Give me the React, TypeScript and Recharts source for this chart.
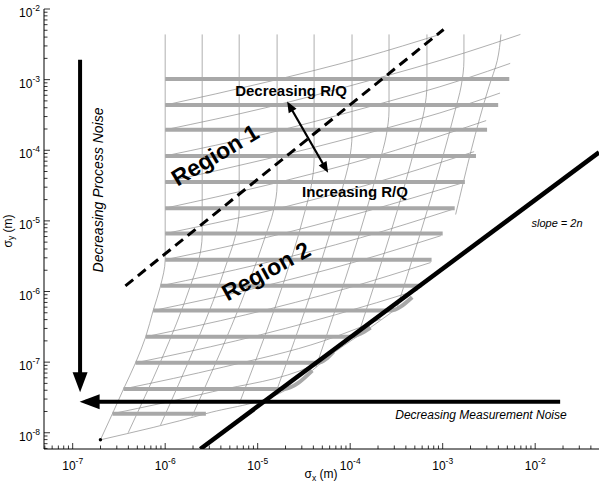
import React from "react";
import { ComposedChart, Line, Scatter, XAxis, YAxis } from "recharts";

const FONT = '"Liberation Sans", Arial, Helvetica, sans-serif';

// axis ranges in log10 units
const xRange = [-7.31, -1.31];
const yRange = [-8.23, -2];

// thick gray levels: log10 σy, and where each one runs in log10 σx
const bandY = [-2.99, -3.36, -3.71, -4.08, -4.45, -4.82, -5.18, -5.55, -5.92, -6.27, -6.64, -7.01, -7.38, -7.73];
const bandFrom = [-6.0, -6.0, -6.0, -6.0, -6.0, -6.0, -6.0, -6.0, -6.05, -6.13, -6.21, -6.32, -6.45, -6.57];
const bandTo = [-2.28, -2.4, -2.52, -2.64, -2.76, -2.87, -3.0, -3.12, -3.23, -3.57, -4.0, -4.35, -4.72, -5.56];
// lower levels turn up along the slope line
const bandHook: (number[] | null)[] = [
  null, null, null, null, null, null, null, null, null,
  [-3.33, -6.08], [-3.78, -6.51], [-4.18, -6.85], [-4.41, -7.12], null,
];

// thin grid, near-vertical family [log σx, log σy]
const gridA: number[][][] = [
  [[-6.0, -2.36], [-6.0, -5.55], [-6.05, -5.92], [-6.13, -6.27], [-6.21, -6.64], [-6.32, -7.01], [-6.45, -7.38], [-6.57, -7.73], [-6.7, -8.1]],
  [[-5.6, -2.36], [-5.6, -5.2], [-5.64, -5.57], [-5.73, -5.93], [-6.4, -8.0]],
  [[-5.2, -2.36], [-5.2, -4.84], [-5.24, -5.21], [-5.33, -5.58], [-6.05, -7.89]],
  [[-4.79, -2.36], [-4.79, -4.49], [-4.83, -4.86], [-4.92, -5.23], [-5.71, -7.77]],
  [[-4.39, -2.36], [-4.39, -4.13], [-4.42, -4.5], [-4.49, -4.87], [-5.2, -7.59]],
  [[-3.98, -2.36], [-3.98, -3.78], [-4.01, -4.15], [-4.08, -4.52], [-4.8, -7.42]],
  [[-3.58, -2.36], [-3.58, -3.43], [-3.61, -3.79], [-3.68, -4.16], [-4.37, -7.07]],
  [[-3.17, -2.36], [-3.17, -3.07], [-3.2, -3.44], [-3.27, -3.81], [-3.92, -6.64]],
  [[-2.77, -2.36], [-2.77, -2.72], [-2.8, -3.09], [-2.87, -3.46], [-3.49, -6.22]],
  [[-2.37, -2.36], [-2.41, -2.73], [-2.5, -3.1], [-2.86, -4.91]],
];

// thin grid, shallow rising family
const gridB: number[][][] = [
  [[-6.7, -8.1], [-5.56, -7.73], [-4.65, -7.36], [-4.16, -6.85], [-3.78, -6.51], [-3.33, -6.08]],
  [[-6.57, -7.73], [-5.49, -7.42], [-4.41, -7.05], [-4.24, -6.94]],
  [[-6.45, -7.38], [-5.37, -7.07], [-4.29, -6.7], [-3.67, -6.39]],
  [[-6.32, -7.01], [-5.24, -6.7], [-4.16, -6.33], [-3.27, -5.98]],
  [[-6.21, -6.64], [-5.13, -6.33], [-4.05, -5.96], [-3.13, -5.59]],
  [[-6.13, -6.27], [-5.05, -5.96], [-3.97, -5.59], [-3.02, -5.21]],
  [[-6.05, -5.92], [-4.97, -5.61], [-3.89, -5.24], [-2.9, -4.84]],
  [[-6.0, -5.55], [-4.92, -5.24], [-3.84, -4.87], [-2.78, -4.46]],
  [[-6.0, -5.18], [-4.92, -4.87], [-3.84, -4.5], [-2.66, -4.02]],
  [[-6.0, -4.82], [-4.92, -4.5], [-3.84, -4.13], [-2.53, -3.58]],
  [[-6.0, -4.45], [-4.92, -4.13], [-3.84, -3.77], [-2.76, -3.36], [-2.38, -3.19]],
  [[-6.0, -4.08], [-4.92, -3.77], [-3.84, -3.4], [-2.76, -2.99], [-2.27, -2.77]],
  [[-6.0, -3.71], [-4.92, -3.4], [-3.84, -3.03], [-2.76, -2.62], [-2.16, -2.36]],
  [[-6.0, -3.36], [-4.92, -3.04], [-3.84, -2.68], [-3.03, -2.36]],
];

const slopeLine = [[-5.62, -8.23], [-1.31, -4.03]];
const boundaryLine = [[-6.43, -5.92], [-2.99, -2.29]];
const processArrow = [[-6.92, -2.72], [-6.92, -7.34]];
const measureArrow = [[-1.73, -7.56], [-6.86, -7.56]];
const ratioArrow = [[-4.66, -3.36], [-4.26, -4.27]];
const startDot = [[-6.7, -8.1]];

type Pt = { x: number; y: number };
const toPts = (pts: number[][]): Pt[] => pts.map(([u, v]) => ({ x: 10 ** u, y: 10 ** v }));

const bandLines = bandY.map((v, i) => {
  const pts = [[bandFrom[i], v], [bandTo[i], v]];
  const hook = bandHook[i];
  if (hook) pts.push(hook);
  return toPts(pts);
});

const xDomain = [10 ** xRange[0], 10 ** xRange[1]];
const yDomain = [10 ** yRange[0], 10 ** yRange[1]];

function logTicks(lo: number, hi: number) {
  const out: number[] = [];
  for (let n = Math.floor(lo); n <= Math.ceil(hi); n++) {
    for (let k = 1; k <= 9; k++) {
      const t = k * 10 ** n;
      if (t >= 10 ** lo * 0.999 && t <= 10 ** hi * 1.001) out.push(t);
    }
  }
  return out;
}
const xTicks = logTicks(xRange[0], xRange[1]);
const yTicks = logTicks(yRange[0], yRange[1]);

const expOf = (v: number) => Math.round(Math.log10(v));
const isDecade = (v: number) => Math.abs(Math.log10(v) - expOf(v)) < 1e-6;

const MAJOR = 6;
const MINOR = 3.5;

function BottomTick({ x, y, payload }: any) {
  const major = isDecade(payload.value);
  return (
    <g>
      <line x1={x} x2={x} y1={y} y2={y - (major ? MAJOR : MINOR)} stroke="#000" strokeWidth={0.8} />
      {major && (
        <text x={x} y={y + 21} textAnchor="middle" fontSize={12} fontFamily={FONT} fill="#000">
          10
          <tspan dy={-6} fontSize={8.5}>
            {`-${-expOf(payload.value)}`}
          </tspan>
        </text>
      )}
    </g>
  );
}

function LeftTick({ x, y, payload }: any) {
  const major = isDecade(payload.value);
  return (
    <g>
      <line x1={x} x2={x + (major ? MAJOR : MINOR)} y1={y} y2={y} stroke="#000" strokeWidth={0.8} />
      {major && (
        <text x={x - 4} y={y + 8} textAnchor="end" fontSize={12} fontFamily={FONT} fill="#000">
          10
          <tspan dy={-6} fontSize={8.5}>
            {`-${-expOf(payload.value)}`}
          </tspan>
        </text>
      )}
    </g>
  );
}

function TopTick({ x, y, payload }: any) {
  const len = isDecade(payload.value) ? MAJOR : MINOR;
  return <line x1={x} x2={x} y1={y} y2={y + len} stroke="#000" strokeWidth={0.8} />;
}

function RightTick({ x, y, payload }: any) {
  const len = isDecade(payload.value) ? MAJOR : MINOR;
  return <line x1={x} x2={x - len} y1={y} y2={y} stroke="#000" strokeWidth={0.8} />;
}

// filled arrowhead at the given point indexes; angle in screen degrees
const arrowHead =
  (heads: Record<number, number>, len: number, half: number, push: number) => (p: any) => {
    const angle = heads[p.index];
    if (angle === undefined || p.cx == null) return <g key={p.index} />;
    const a = (angle * Math.PI) / 180;
    const c = Math.cos(a);
    const s = Math.sin(a);
    const tx = p.cx + c * push;
    const ty = p.cy + s * push;
    const bx = tx - c * len;
    const by = ty - s * len;
    const pts = `${tx},${ty} ${bx - s * half},${by + c * half} ${bx + s * half},${by - c * half}`;
    return <polygon key={p.index} points={pts} fill="#000" />;
  };

const smallDot = (p: any) => <circle cx={p.cx} cy={p.cy} r={1.7} fill="#000" />;

const W = 606;
const H = 482;

const thin = { stroke: "#8c8c8c", strokeWidth: 0.7 };

export default function App() {
  return (
    <div style={{ position: "absolute", left: 0, top: 0, width: W, height: H, background: "#fff" }}>
      <ComposedChart width={W} height={H} margin={{ top: 9, right: 7, bottom: 0, left: 0 }}>
        <XAxis
          type="number"
          dataKey="x"
          scale="log"
          domain={xDomain}
          allowDataOverflow
          ticks={xTicks}
          interval={0}
          height={33}
          tickSize={0}
          tickMargin={0}
          tickLine={false}
          axisLine={{ stroke: "#000", strokeWidth: 1 }}
          tick={<BottomTick />}
        />
        <XAxis
          xAxisId="top"
          orientation="top"
          type="number"
          dataKey="x"
          scale="log"
          domain={xDomain}
          allowDataOverflow
          ticks={xTicks}
          interval={0}
          height={0}
          tickSize={0}
          tickMargin={0}
          tickLine={false}
          axisLine={{ stroke: "#000", strokeWidth: 1 }}
          tick={<TopTick />}
        />
        <YAxis
          type="number"
          dataKey="y"
          scale="log"
          domain={yDomain}
          allowDataOverflow
          ticks={yTicks}
          interval={0}
          width={44}
          tickSize={0}
          tickMargin={0}
          tickLine={false}
          axisLine={{ stroke: "#000", strokeWidth: 1 }}
          tick={<LeftTick />}
        />
        <YAxis
          yAxisId="right"
          orientation="right"
          type="number"
          dataKey="y"
          scale="log"
          domain={yDomain}
          allowDataOverflow
          ticks={yTicks}
          interval={0}
          width={0}
          tickSize={0}
          tickMargin={0}
          tickLine={false}
          axisLine={{ stroke: "#000", strokeWidth: 1 }}
          tick={<RightTick />}
        />

        {gridA.map((pts, i) => (
          <Line
            key={`a${i}`}
            data={toPts(pts)}
            dataKey="y"
            type="monotoneY"
            {...thin}
            dot={false}
            activeDot={false}
            isAnimationActive={false}
          />
        ))}
        {gridB.map((pts, i) => (
          <Line
            key={`b${i}`}
            data={toPts(pts)}
            dataKey="y"
            type="monotoneX"
            {...thin}
            dot={false}
            activeDot={false}
            isAnimationActive={false}
          />
        ))}
        {bandLines.map((pts, i) => (
          <Line
            key={`band${i}`}
            data={pts}
            dataKey="y"
            type="monotoneX"
            stroke="#a8a8a8"
            strokeWidth={4}
            dot={false}
            activeDot={false}
            isAnimationActive={false}
          />
        ))}

        <Line
          data={toPts(slopeLine)}
          dataKey="y"
          type="linear"
          stroke="#000"
          strokeWidth={4.5}
          dot={false}
          activeDot={false}
          isAnimationActive={false}
        />
        <Line
          data={toPts(boundaryLine)}
          dataKey="y"
          type="linear"
          stroke="#000"
          strokeWidth={3}
          strokeDasharray="10 6"
          dot={false}
          activeDot={false}
          isAnimationActive={false}
        />
        <Line
          data={toPts(processArrow)}
          dataKey="y"
          type="linear"
          stroke="#000"
          strokeWidth={4}
          dot={arrowHead({ 1: 90 }, 20, 7.5, 6)}
          activeDot={false}
          isAnimationActive={false}
        />
        <Line
          data={toPts(measureArrow)}
          dataKey="y"
          type="linear"
          stroke="#000"
          strokeWidth={4}
          dot={arrowHead({ 1: 180 }, 20, 7.5, 6)}
          activeDot={false}
          isAnimationActive={false}
        />
        <Line
          data={toPts(ratioArrow)}
          dataKey="y"
          type="linear"
          stroke="#000"
          strokeWidth={2.2}
          dot={arrowHead({ 0: -120, 1: 60 }, 11, 4.5, 4)}
          activeDot={false}
          isAnimationActive={false}
        />
        <Scatter data={toPts(startDot)} shape={smallDot} isAnimationActive={false} />
      </ComposedChart>

      <svg
        width={W}
        height={H}
        style={{ position: "absolute", left: 0, top: 0, pointerEvents: "none" }}
        fontFamily={FONT}
      >
        <text x={291} y={96} textAnchor="middle" fontSize={15} fontWeight="bold">
          Decreasing R/Q
        </text>
        <text x={355} y={197} textAnchor="middle" fontSize={15} fontWeight="bold">
          Increasing R/Q
        </text>
        <text
          x={215}
          y={155}
          textAnchor="middle"
          dominantBaseline="central"
          fontSize={23}
          fontWeight="bold"
          transform="rotate(-31 215 155)"
        >
          Region 1
        </text>
        <text
          x={266}
          y={271}
          textAnchor="middle"
          dominantBaseline="central"
          fontSize={23}
          fontWeight="bold"
          transform="rotate(-29 266 271)"
        >
          Region 2
        </text>
        <text x={557} y={227} textAnchor="middle" fontSize={11} fontStyle="italic">
          slope = 2n
        </text>
        <text x={481} y={419} textAnchor="middle" fontSize={12} fontStyle="italic">
          Decreasing Measurement Noise
        </text>
        <text
          x={98}
          y={190}
          textAnchor="middle"
          dominantBaseline="central"
          fontSize={14}
          fontStyle="italic"
          transform="rotate(-90 98 190)"
        >
          Decreasing Process Noise
        </text>
        <text
          x={8}
          y={231}
          textAnchor="middle"
          dominantBaseline="central"
          fontSize={12}
          transform="rotate(-90 8 231)"
        >
          σ<tspan dy={3} fontSize={8.5}>y</tspan>
          <tspan dy={-3}> (m)</tspan>
        </text>
        <text x={321} y={478} textAnchor="middle" fontSize={12}>
          σ<tspan dy={3} fontSize={8.5}>x</tspan>
          <tspan dy={-3}> (m)</tspan>
        </text>
      </svg>
    </div>
  );
}
